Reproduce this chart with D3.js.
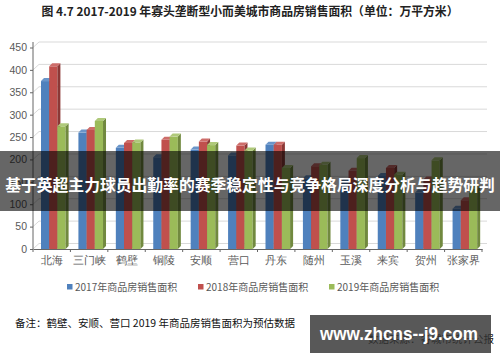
<html>
<head>
<meta charset="utf-8">
<script src="https://d3js.org/d3.v7.min.js"></script>
<style>
  body { margin: 0; background: #fff; }
  svg { display: block; font-family: "Noto Sans CJK SC", "Noto Sans", sans-serif; }
</style>
</head>
<body>
<div id="chart"></div>
<script>
  // data (万平方米)
  let cities = ["北海", "三门峡", "鹤壁", "铜陵", "安顺", "营口", "丹东", "随州", "玉溪", "来宾", "贺州", "张家界"];
  let v2017 = [375, 260, 226, 205, 222, 209, 233, 158, 150, 163, 126, 90];
  let v2018 = [408, 266, 237, 244, 240, 231, 233, 185, 175, 181, 155, 109];
  let v2019 = [274, 286, 238, 251, 232, 220, 181, 188, 203, 166, 198, 135];
  let seriesNames = ["2017年商品房销售面积", "2018年商品房销售面积", "2019年商品房销售面积"];
  let yTicks = [0, 50, 100, 150, 200, 250, 300, 350, 400, 450];

  let front = ["#4F81BD", "#C0504D", "#9BBB59"];
  let side = ["#385D8A", "#8C3836", "#71893F"];
  let topc = ["#6A95C9", "#CD6D6A", "#AFC97A"];

  let W = 500, H = 362;
  let svg = d3.select("#chart").append("svg").attr("width", W).attr("height", H);

  let x = d3.scaleBand().domain(cities).range([33, 482]);
  let y = d3.scaleLinear().domain([0, 450]).range([249, 47.5]);
  let dx = 6, dy = 5.5;   // back wall offset
  let bw = 8.2, bd = 3;   // bar width, bar depth

  // title
  svg.append("text").attr("x", 250).attr("y", 16).attr("text-anchor", "middle")
    .attr("font-size", 12).attr("font-weight", "bold").attr("fill", "#222")
    .attr("textLength", 417).attr("lengthAdjust", "spacingAndGlyphs")
    .text("图 4.7  2017-2019 年寡头垄断型小而美城市商品房销售面积（单位：万平方米）");

  // gridlines on back wall
  let grid = svg.append("g");
  yTicks.forEach(function (t) {
    grid.append("line").attr("x1", 33).attr("y1", y(t)).attr("x2", 33 + dx).attr("y2", y(t) - dy)
      .attr("stroke", "#d9d9d9").attr("stroke-width", 1);
    grid.append("line").attr("x1", 33 + dx).attr("y1", y(t) - dy).attr("x2", 487).attr("y2", y(t) - dy)
      .attr("stroke", "#d9d9d9").attr("stroke-width", 1);
  });

  // bars
  let rows = [];
  cities.forEach(function (c, i) {
    [v2017[i], v2018[i], v2019[i]].forEach(function (v, s) {
      rows.push({ city: c, s: s, v: v });
    });
  });

  let bars = svg.append("g").selectAll("g").data(rows).enter().append("g");
  function bx(d) { return x(d.city) + 8 + d.s * bw; }
  bars.append("rect")
    .attr("x", bx).attr("y", function (d) { return y(d.v); })
    .attr("width", bw).attr("height", function (d) { return y(0) - y(d.v); })
    .attr("fill", function (d) { return front[d.s]; });
  bars.append("path")
    .attr("d", function (d) {
      let x0 = bx(d) + bw, y0 = y(d.v);
      return "M" + x0 + "," + y0 + "L" + (x0 + bd) + "," + (y0 - bd) + "L" + (x0 + bd) + "," + (y(0) - bd) + "L" + x0 + "," + y(0) + "Z";
    })
    .attr("fill", function (d) { return side[d.s]; });
  bars.append("path")
    .attr("d", function (d) {
      let x0 = bx(d), y0 = y(d.v);
      return "M" + x0 + "," + y0 + "L" + (x0 + bd) + "," + (y0 - bd) + "L" + (x0 + bw + bd) + "," + (y0 - bd) + "L" + (x0 + bw) + "," + y0 + "Z";
    })
    .attr("fill", function (d) { return topc[d.s]; });

  // y axis
  let yAxis = svg.append("g").attr("transform", "translate(33,0)")
    .call(d3.axisLeft(y).tickValues(yTicks).tickSize(3).tickPadding(3));
  yAxis.select(".domain").attr("stroke", "#666").attr("d", "M0," + (y(450) - dy) + "V" + y(0));
  yAxis.selectAll(".tick line").attr("stroke", "#666");
  yAxis.selectAll("text").attr("fill", "#595959").attr("font-size", 10.5)
    .attr("font-family", "Liberation Sans, Arial, sans-serif");

  // x axis
  let xAxis = svg.append("g").attr("transform", "translate(0," + y(0) + ")")
    .call(d3.axisBottom(x).tickSize(0).tickPadding(8));
  xAxis.select(".domain").attr("stroke", "#666");
  xAxis.selectAll("text").attr("fill", "#595959").attr("font-size", 10.5);
  let sep = svg.append("g");
  cities.concat([""]).forEach(function (c, i) {
    let xx = 33 + i * x.step();
    sep.append("line").attr("x1", xx).attr("x2", xx).attr("y1", y(0)).attr("y2", y(0) + 3)
      .attr("stroke", "#666");
  });

  // legend
  let legX = [67, 198, 329];
  let leg = svg.append("g").selectAll("g").data(seriesNames).enter().append("g")
    .attr("transform", function (d, i) { return "translate(" + legX[i] + ",287)"; });
  leg.append("rect").attr("x", 0).attr("y", -3).attr("width", 5.5).attr("height", 5.5)
    .attr("fill", function (d, i) { return front[i]; });
  leg.append("text").attr("x", 8).attr("y", 3.5).attr("font-size", 10).attr("fill", "#595959")
    .text(function (d) { return d; });

  // notes
  svg.append("text").attr("x", 15).attr("y", 327).attr("font-size", 10.5).attr("fill", "#111")
    .text("备注：鹤壁、安顺、营口 2019 年商品房销售面积为预估数据");
  svg.append("text").attr("x", 494).attr("y", 343).attr("text-anchor", "end")
    .attr("font-size", 10.5).attr("fill", "#111").text("数据来源：各城市统计公报");

  // overlay band
  svg.append("rect").attr("x", 0).attr("y", 151).attr("width", W).attr("height", 60)
    .attr("fill", "#000").attr("opacity", 0.6);
  svg.append("text").attr("x", 250).attr("y", 191).attr("text-anchor", "middle")
    .attr("font-size", 15.8).attr("font-weight", "bold").attr("fill", "#fff")
    .text("基于英超主力球员出勤率的赛季稳定性与竞争格局深度分析与趋势研判");

  // watermark box
  svg.append("rect").attr("x", 310).attr("y", 315).attr("width", 181).attr("height", 38)
    .attr("fill", "#333").attr("opacity", 0.82);
  svg.append("text").attr("x", 399).attr("y", 340).attr("text-anchor", "middle")
    .attr("font-size", 19).attr("font-weight", "bold").attr("fill", "#fff")
    .attr("font-family", "Liberation Sans, Arial, sans-serif")
    .attr("textLength", 158).attr("lengthAdjust", "spacingAndGlyphs")
    .text("www.zhcns--j9.com");
</script>
</body>
</html>
